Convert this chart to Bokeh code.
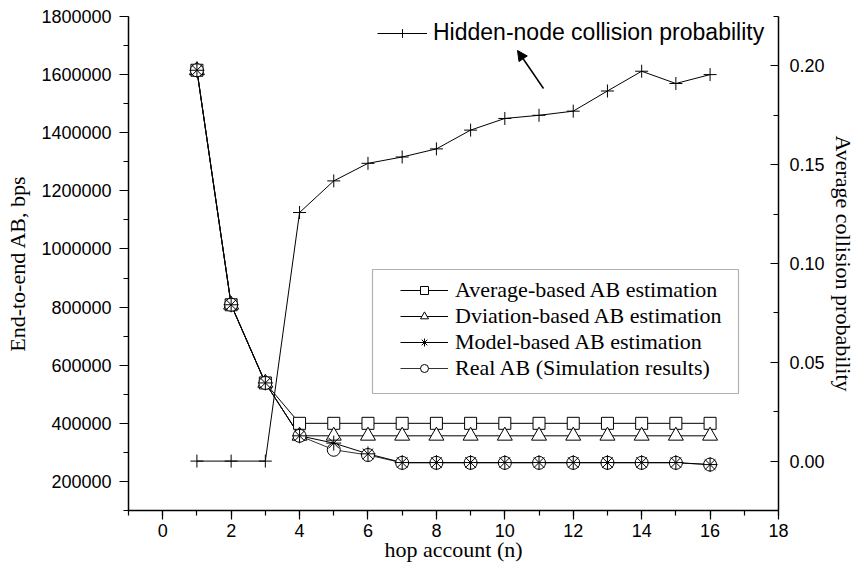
from bokeh.plotting import figure
from bokeh.models import (Range1d, LinearAxis, SingleIntervalTicker, NumeralTickFormatter,
                          Legend, LegendItem, BoxAnnotation, Arrow, NormalHead)
from bokeh.embed import file_html
from bokeh.resources import INLINE

# ---------------- data ----------------
hops = [1, 2, 3, 4, 5, 6, 7, 8, 9, 10, 11, 12, 13, 14, 15, 16]
avg_ab = [1615000, 808000, 539000, 400000, 400000, 400000, 400000, 400000,
          400000, 400000, 400000, 400000, 400000, 400000, 400000, 400000]
dev_ab = [1615000, 808000, 539000, 357000, 357000, 357000, 357000, 357000,
          357000, 357000, 357000, 357000, 357000, 357000, 357000, 357000]
model_ab = [1615000, 808000, 539000, 357000, 332000, 295000, 265000, 265000,
            265000, 265000, 265000, 265000, 265000, 265000, 265000, 258000]
real_ab = [1615000, 808000, 539000, 357000, 309000, 291000, 264000, 264000,
           264000, 264000, 264000, 264000, 264000, 264000, 264000, 258000]
hidden_prob = [0.0, 0.0, 0.0, 0.1258, 0.1418, 0.1507, 0.1539, 0.1580,
               0.1675, 0.1734, 0.1750, 0.1771, 0.1873, 0.1973, 0.1911, 0.1956]

legend_labels = ["Average-based AB estimation", "Dviation-based AB estimation",
                 "Model-based AB estimation", "Real AB (Simulation results)"]
hidden_label = "Hidden-node collision probability"
left_title = "End-to-end AB, bps"
right_title = "Average collision probability"
bottom_title = "hop account (n)"

SERIF = "Liberation Serif"
SANS = "Liberation Sans"

p = figure(width=860, height=584, output_backend="svg", toolbar_location=None,
           x_range=Range1d(-1, 18), y_range=Range1d(100000, 1800000),
           min_border_left=128, min_border_right=82, min_border_top=16, min_border_bottom=74)
p.extra_y_ranges = {"right": Range1d(-0.025, 0.225)}
p.outline_line_color = None
p.xgrid.visible = False
p.ygrid.visible = False
p.background_fill_color = "white"
p.border_fill_color = "white"

# axes
xa = p.xaxis[0]
xa.ticker = SingleIntervalTicker(interval=2, num_minor_ticks=2)
xa.axis_label = bottom_title
xa.axis_label_standoff = -3
ya = p.yaxis[0]
ya.ticker = SingleIntervalTicker(interval=200000, num_minor_ticks=2)
ya.formatter = NumeralTickFormatter(format="0")
ya.axis_label = left_title
ya.axis_label_standoff = 8

ra = LinearAxis(y_range_name="right", ticker=SingleIntervalTicker(interval=0.05, num_minor_ticks=2),
                formatter=NumeralTickFormatter(format="0.00"))
ra.axis_label = right_title
ra.axis_label_standoff = 3
p.add_layout(ra, "right")

for ax in (xa, ya, ra):
    ax.axis_line_color = "black"
    ax.axis_line_width = 1.5
    ax.major_tick_line_color = "black"
    ax.minor_tick_line_color = "black"
    ax.major_tick_line_width = 1.2
    ax.minor_tick_line_width = 1.2
    ax.major_label_text_font = SANS
    ax.major_label_text_font_size = "18px"
    ax.major_label_text_color = "black"
    ax.axis_label_text_font = SERIF
    ax.axis_label_text_font_size = "22px"
    ax.axis_label_text_font_style = "normal"
    ax.axis_label_text_color = "black"

for ax in (xa, ya):
    ax.major_tick_out = 9
    ax.major_tick_in = 0
    ax.minor_tick_out = 5
    ax.minor_tick_in = 0
ya.major_label_standoff = 8
xa.major_label_standoff = 4
ra.major_tick_in = 8
ra.major_tick_out = 0
ra.minor_tick_in = 5
ra.minor_tick_out = 0
ra.major_label_standoff = 11

# series
lw = 1
l_avg = p.line(hops, avg_ab, line_color="black", line_width=lw)
l_dev = p.line(hops, dev_ab, line_color="black", line_width=lw)
l_real = p.line(hops, real_ab, line_color="#333333", line_width=lw)
l_model = p.line(hops, model_ab, line_color="black", line_width=lw)
l_hid = p.line(hops, hidden_prob, line_color="black", line_width=lw, y_range_name="right")

s_avg = p.scatter(hops, avg_ab, marker="square", size=12, fill_color="white", line_color="black", line_width=1)
s_dev = p.scatter(hops, dev_ab, marker="triangle", size=15, fill_color="white", line_color="black", line_width=1)
s_real = p.scatter(hops, real_ab, marker="circle", size=13, fill_color="white", line_color="black", line_width=1)
s_model = p.scatter(hops, model_ab, marker="asterisk", size=15, line_color="black", line_width=1)
s_hid = p.scatter(hops, hidden_prob, marker="cross", size=13, line_color="black", line_width=1,
                  y_range_name="right")

# main legend (box drawn separately)
box = BoxAnnotation(left=244, right=610, top=241, bottom=117,
                    left_units="screen", right_units="screen", top_units="screen", bottom_units="screen",
                    fill_alpha=0, line_color="black", line_width=1.2)
p.add_layout(box)

leg = Legend(items=[LegendItem(label=legend_labels[0], renderers=[l_avg, s_avg]),
                    LegendItem(label=legend_labels[1], renderers=[l_dev, s_dev]),
                    LegendItem(label=legend_labels[2], renderers=[l_model, s_model]),
                    LegendItem(label=legend_labels[3], renderers=[l_real, s_real])],
             location=(272, 129), padding=0, margin=0, spacing=-1,
             glyph_width=48, glyph_height=20, label_height=20, label_standoff=7,
             label_text_font=SERIF, label_text_font_size="22px", label_text_color="black",
             border_line_alpha=0, background_fill_alpha=0)
p.add_layout(leg)

leg2 = Legend(items=[LegendItem(label=hidden_label, renderers=[l_hid, s_hid])],
              location=(249, 464), padding=0, margin=0,
              glyph_width=50, glyph_height=22, label_height=22, label_standoff=6,
              label_text_font=SANS, label_text_font_size="23px", label_text_color="black",
              border_line_alpha=0, background_fill_alpha=0)
p.add_layout(leg2)

p.add_layout(Arrow(x_start=415, y_start=422, x_end=389, y_end=460,
                   start_units="screen", end_units="screen",
                   line_color="black", line_width=1.5,
                   end=NormalHead(size=10, fill_color="black", line_color="black")))

open("out.html", "w").write(file_html(p, INLINE))
